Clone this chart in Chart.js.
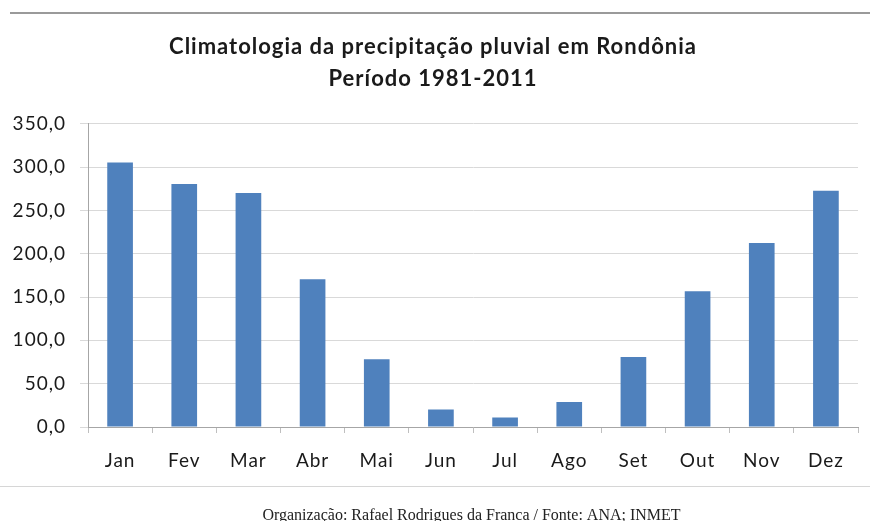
<!DOCTYPE html>
<html>
<head>
<meta charset="utf-8">
<script src="https://cdn.jsdelivr.net/npm/chart.js@4"></script>
<style>
html,body{margin:0;padding:0;background:#fff;}
#wrap{position:relative;width:870px;height:521px;}
</style>
</head>
<body>
<div id="wrap"><canvas id="c" width="870" height="521"></canvas></div>
<script>
const categories = ["Jan","Fev","Mar","Abr","Mai","Jun","Jul","Ago","Set","Out","Nov","Dez"];
const precipitation = [305.3, 280.5, 270.2, 170.6, 78.2, 20.3, 11.0, 29.0, 80.8, 156.7, 212.5, 272.6];
const yTicks = [0, 50, 100, 150, 200, 250, 300, 350];
const titleLines = ["Climatologia da precipitação pluvial em Rondônia", "Período 1981-2011"];
const footerText = "Organização: Rafael Rodrigues da Franca / Fonte: ANA; INMET";

const spacingPlugin = {
  id: 'spacing',
  beforeInit(chart) { chart.ctx.letterSpacing = '1px'; },
  beforeUpdate(chart) { chart.ctx.letterSpacing = '1px'; },
  beforeDraw(chart) { chart.ctx.letterSpacing = '1px'; }
};

const decorPlugin = {
  id: 'decor',
  afterDraw(chart) {
    const ctx = chart.ctx;
    ctx.save();
    ctx.letterSpacing = '0px';
    ctx.strokeStyle = '#9a9a9a';
    ctx.lineWidth = 2;
    ctx.beginPath(); ctx.moveTo(10, 13); ctx.lineTo(870, 13); ctx.stroke();
    ctx.strokeStyle = '#d6d6d6';
    ctx.lineWidth = 1;
    ctx.beginPath(); ctx.moveTo(0, 486.5); ctx.lineTo(870, 486.5); ctx.stroke();
    ctx.fillStyle = '#222';
    ctx.font = '16px "Liberation Serif", "Times New Roman", serif';
    ctx.textAlign = 'center';
    ctx.textBaseline = 'alphabetic';
    ctx.fillText(footerText, 471.5, 520);
    ctx.restore();
  }
};

new Chart(document.getElementById('c'), {
  type: 'bar',
  data: {
    labels: categories,
    datasets: [{
      data: precipitation,
      backgroundColor: '#4F81BD',
      borderWidth: 0,
      barPercentage: 0.4,
      categoryPercentage: 1.0
    }]
  },
  options: {
    responsive: false,
    animation: false,
    devicePixelRatio: 1,
    layout: { padding: { top: 0, left: 8, right: 12, bottom: 40 } },
    plugins: {
      legend: { display: false },
      tooltip: { enabled: false },
      title: {
        display: true,
        text: titleLines,
        color: '#1a1a1a',
        font: { family: 'Lato, "Open Sans", sans-serif', size: 22, weight: 'bold', lineHeight: 1.45 },
        padding: { top: 31, bottom: 29 }
      }
    },
    scales: {
      x: {
        grid: { display: true, drawOnChartArea: false, drawTicks: true, tickLength: 6, color: '#bfbfbf', offset: true },
        border: { display: true, color: '#a6a6a6' },
        ticks: { color: '#1a1a1a', font: { family: 'Lato, "Open Sans", sans-serif', size: 19 }, padding: 16 },
        afterFit(scale) { scale.height = 54; }
      },
      y: {
        min: 0, max: 350,
        afterBuildTicks(scale) { scale.ticks = yTicks.map(v => ({ value: v })); },
        grid: { color: '#d9d9d9', drawTicks: true, tickLength: 8 },
        border: { display: true, color: '#a6a6a6' },
        ticks: {
          color: '#1a1a1a',
          font: { family: 'Lato, "Open Sans", sans-serif', size: 19 },
          padding: 14,
          callback: v => v.toFixed(1).replace('.', ',')
        },
        afterFit(scale) { scale.width = 80; }
      }
    }
  },
  plugins: [spacingPlugin, decorPlugin]
});
</script>
</body>
</html>
